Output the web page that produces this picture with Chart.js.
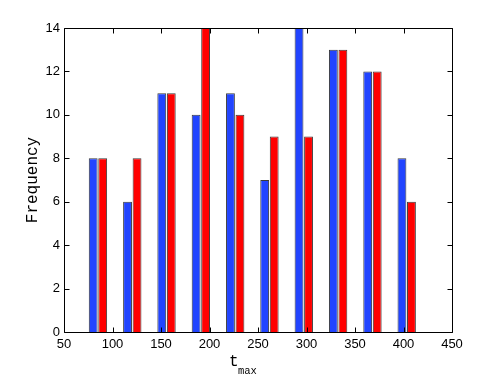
<!DOCTYPE html>
<html>
<head>
<title>t_max histogram</title>
<script src="https://cdn.jsdelivr.net/npm/chart.js"></script>
<style>
    body { margin: 0; background: #fff; }
</style>
</head>
<body>
<canvas id="histChart" width="498" height="375"></canvas>
<script>
// bin centres (t_max) and counts
const binCenters = [85, 120.4, 155.7, 191.1, 226.5, 261.8, 297.2, 332.6, 368, 403.3];
const blueCounts = [8, 6, 11, 10, 11, 7, 14, 13, 12, 8];
const redCounts  = [8, 8, 11, 14, 10, 9, 9, 13, 12, 6];
const xTicks = [50, 100, 150, 200, 250, 300, 350, 400, 450];
const yTicks = [0, 2, 4, 6, 8, 10, 12, 14];

const monoFont = '"Liberation Mono", "Courier New", "DejaVu Sans Mono", monospace';
const toPoints = counts => counts.map((c, i) => ({ x: binCenters[i], y: c }));

// matlab style box, inward ticks and the two axis labels
const matlabAxes = {
    id: 'matlabAxes',
    afterDraw(chart) {
        const { ctx, chartArea: a, scales } = chart;
        const L = Math.round(a.left) + 0.5, R = Math.round(a.right) + 0.5;
        const T = Math.round(a.top) + 0.5, B = Math.round(a.bottom) + 0.5;
        const tl = 5;
        ctx.save();
        ctx.strokeStyle = '#000';
        ctx.lineWidth = 1;
        ctx.beginPath();
        ctx.rect(L, T, R - L, B - T);
        xTicks.forEach(v => {
            const px = Math.round(scales.x.getPixelForValue(v)) + 0.5;
            ctx.moveTo(px, B); ctx.lineTo(px, B - tl);
            ctx.moveTo(px, T); ctx.lineTo(px, T + tl);
        });
        yTicks.forEach(v => {
            const py = Math.round(scales.y.getPixelForValue(v)) + 0.5;
            ctx.moveTo(L, py); ctx.lineTo(L + tl, py);
            ctx.moveTo(R, py); ctx.lineTo(R - tl, py);
        });
        ctx.stroke();

        ctx.fillStyle = '#000';
        // y label
        ctx.save();
        ctx.translate(37, (a.top + a.bottom) / 2);
        ctx.rotate(-Math.PI / 2);
        ctx.font = '16px ' + monoFont;
        ctx.textAlign = 'center';
        ctx.textBaseline = 'alphabetic';
        ctx.fillText('Frequency', 0, 0);
        ctx.restore();

        // x label t_max
        const cx = (a.left + a.right) / 2;
        ctx.textAlign = 'left';
        ctx.textBaseline = 'alphabetic';
        ctx.font = '16px ' + monoFont;
        ctx.fillText('t', cx - 29, 366);
        ctx.font = '10.5px ' + monoFont;
        ctx.fillText('max', cx - 20, 374);
        ctx.restore();
    }
};

const ctx = document.getElementById('histChart');
new Chart(ctx, {
    type: 'bar',
    data: {
        datasets: [{
            data: toPoints(blueCounts),
            backgroundColor: '#2144ff',
            borderColor: '#3a3a3a',
            borderWidth: 1
        }, {
            data: toPoints(redCounts),
            backgroundColor: '#ff0000',
            borderColor: '#3a3a3a',
            borderWidth: 1
        }]
    },
    options: {
        responsive: false,
        animation: false,
        categoryPercentage: 0.555,
        barPercentage: 0.93,
        layout: { padding: { top: 28, right: 46, left: 0, bottom: 0 } },
        plugins: {
            legend: { display: false },
            tooltip: { enabled: false }
        },
        scales: {
            x: {
                type: 'linear',
                offset: false,
                min: 50,
                max: 450,
                grid: { display: false, offset: false, drawTicks: false },
                border: { display: false },
                afterFit: s => { s.height = 43; },
                afterBuildTicks: s => { s.ticks = xTicks.map(v => ({ value: v })); },
                ticks: {
                    color: '#000',
                    padding: 5,
                    maxRotation: 0,
                    font: { family: '"Liberation Sans", Arial, sans-serif', size: 13 }
                }
            },
            y: {
                min: 0,
                max: 14,
                grid: { display: false, drawTicks: false },
                border: { display: false },
                afterFit: s => { s.width = 64; },
                afterBuildTicks: s => { s.ticks = yTicks.map(v => ({ value: v })); },
                ticks: {
                    color: '#000',
                    padding: 4,
                    font: { family: '"Liberation Sans", Arial, sans-serif', size: 13 }
                }
            }
        }
    },
    plugins: [matlabAxes]
});
</script>
</body>
</html>
